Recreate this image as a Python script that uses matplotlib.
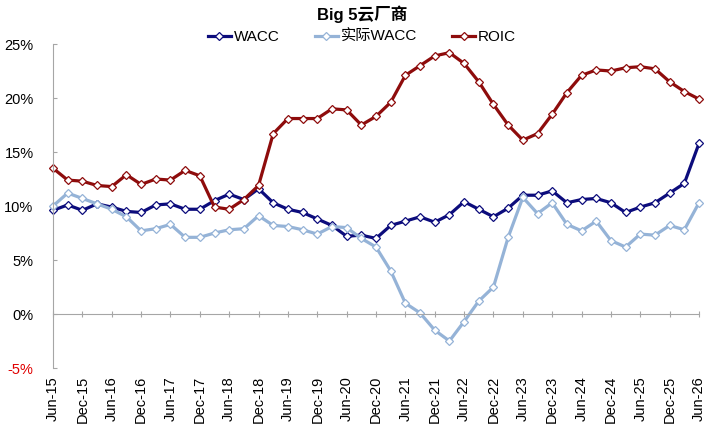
import matplotlib.pyplot as plt

plt.rcParams['font.family'] = ['Liberation Sans', 'Noto Sans CJK SC', 'DejaVu Sans']

# quarterly labels, Jun-15 .. Jun-26
quarters = []
for yr in range(15, 27):
    for mon in ["Mar", "Jun", "Sep", "Dec"]:
        quarters.append(f"{mon}-{yr}")
quarters = quarters[1:quarters.index("Jun-26") + 1]

wacc = [9.6, 10.1, 9.6, 10.2, 9.9, 9.5, 9.4, 10.1, 10.2, 9.7,
        9.7, 10.5, 11.1, 10.6, 11.6, 10.3, 9.7, 9.4, 8.8, 8.2,
        7.2, 7.3, 7.0, 8.2, 8.6, 9.0, 8.5, 9.2, 10.4, 9.7,
        9.0, 9.8, 11.0, 11.0, 11.4, 10.3, 10.6, 10.7, 10.3, 9.4,
        9.9, 10.3, 11.2, 12.1, 15.8]

real_wacc = [10.0, 11.2, 10.7, 10.2, 9.7, 9.0, 7.7, 7.9, 8.3, 7.1,
             7.1, 7.5, 7.8, 7.9, 9.1, 8.2, 8.1, 7.8, 7.4, 8.1,
             8.0, 7.0, 6.2, 4.0, 1.0, 0.1, -1.5, -2.5, -0.7, 1.2,
             2.5, 7.1, 10.8, 9.3, 10.3, 8.3, 7.7, 8.6, 6.8, 6.2,
             7.4, 7.3, 8.2, 7.8, 10.3]

roic = [13.5, 12.4, 12.3, 11.9, 11.8, 12.9, 12.0, 12.5, 12.4, 13.3,
        12.8, 9.9, 9.7, 10.6, 11.9, 16.7, 18.1, 18.1, 18.1, 19.0,
        18.9, 17.5, 18.3, 19.6, 22.1, 23.0, 23.9, 24.2, 23.2, 21.5,
        19.4, 17.5, 16.1, 16.7, 18.5, 20.5, 22.1, 22.6, 22.5, 22.8,
        22.9, 22.7, 21.5, 20.6, 19.9]

y_ticks = [-5, 0, 5, 10, 15, 20, 25]

fig = plt.figure(figsize=(7.24, 4.38), dpi=100)
ax = fig.add_axes([0.0732, 0.1598, 0.8923, 0.7397])

# axis line sits at 0%, labels stay at the bottom (excel "low" labels)
for side in ["top", "right"]:
    ax.spines[side].set_visible(False)
ax.spines["left"].set_color("#a6a6a6")
ax.spines["bottom"].set_color("#a6a6a6")
ax.spines["bottom"].set_position(("data", 0))

x = list(range(len(quarters)))
series = [
    (wacc, "WACC", "#0c0c7c"),
    (real_wacc, "实际WACC", "#95b3d7"),
    (roic, "ROIC", "#8e0c0c"),
]
for vals, name, col in series:
    ax.plot(x, vals, color=col, lw=2.3, marker="D", markersize=4.2,
            markerfacecolor="white", markeredgecolor=col, markeredgewidth=0.9,
            label=name, clip_on=False)

ax.set_xlim(0, len(quarters) - 1)
ax.set_ylim(-5, 25)
ax.set_yticks(y_ticks)
ax.set_yticklabels([f"{v}%" for v in y_ticks], fontsize=10.5)
for lbl, v in zip(ax.get_yticklabels(), y_ticks):
    if v < 0:
        lbl.set_color("#e00000")

ax.set_xticks(x[::2])
ax.set_xticklabels(quarters[::2], fontsize=10.5)

ax.tick_params(axis="y", direction="in", length=3, color="#a6a6a6", pad=14)
ax.tick_params(axis="x", direction="inout", length=5, color="#a6a6a6",
               pad=42, labelrotation=90)

fig.text(0.5, 0.968, "Big 5云厂商", ha="center", va="center",
         fontsize=12, fontweight="bold")

fig.legend(loc="center", bbox_to_anchor=(0.5, 0.915), ncol=3, frameon=False,
           fontsize=11, handlelength=1.5, handletextpad=0.2, columnspacing=2.3,
           borderaxespad=0)

fig.savefig("out.png", dpi=100)
